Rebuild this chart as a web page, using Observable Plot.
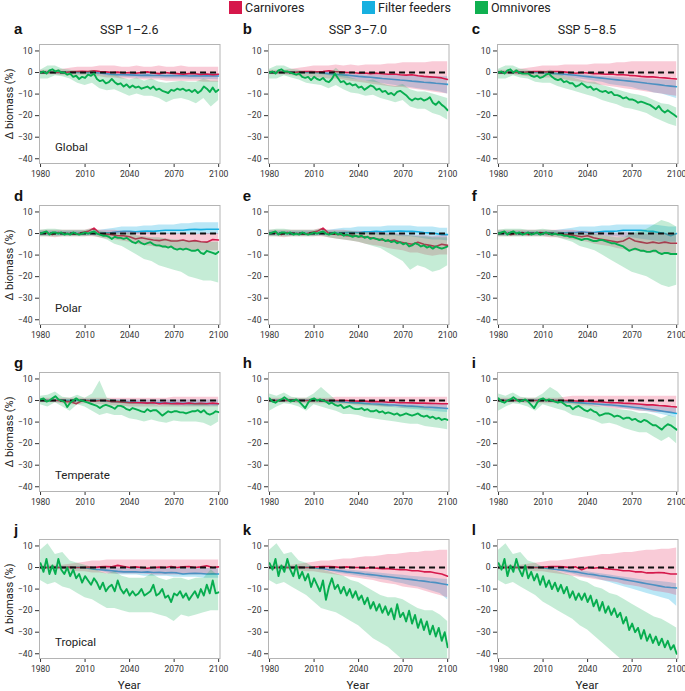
<!DOCTYPE html>
<html><head><meta charset="utf-8">
<script src="https://cdn.jsdelivr.net/npm/d3@7"></script>
<script src="https://cdn.jsdelivr.net/npm/@observablehq/plot@0.6"></script>
<style>
body{margin:0;background:#fff;}
#fig{position:relative;width:685px;height:691px;font-family:Roboto,"Liberation Sans",sans-serif;color:#222;overflow:hidden;background:#fff;}
.abs{position:absolute;white-space:nowrap;line-height:1;}
</style></head><body><div id="fig"></div><script>
// ---------- labels ----------
const groups = ["Carnivores", "Filter feeders", "Omnivores"];
const scenarios = ["SSP 1–2.6", "SSP 3–7.0", "SSP 5–8.5"];
const regions = ["Global", "Polar", "Temperate", "Tropical"];
const panelKeys = ["a","b","c","d","e","f","g","h","i","j","k","l"];
const xTicks = [1980, 2010, 2040, 2070, 2100];
const yTicks = [10, 0, -10, -20, -30, -40];
const yearSpan = [1980, 2100];
const zeroRef = [{value: 0, from: 1980, to: 2100}];

// ---------- data (omnivores: every 2 yr; carnivores & filter feeders: every 4 yr; bands: every 5 yr) ----------
// a: Global, SSP1-2.6
const omni_a = [0,0.5,-0.5,1,1.5,0.5,1,0,0,-1,-0.5,-2,-1.5,-3,-2,-2.5,-1,-1.5,-0.5,-3,-4,-3.5,-5,-4.5,-3,-4.5,-5.5,-5,-6.5,-5.5,-7,-6,-7,-6.5,-7.5,-7,-6.5,-7.5,-6.5,-8,-7.5,-8.5,-9,-9.5,-8,-8.5,-7.5,-8,-7.5,-8.5,-8,-9,-8,-9.5,-8.5,-6.5,-7.5,-9,-7,-9,-8];
const omniHi_a = [1,3,3,1.5,1,0.5,0,1,-1,-1.5,-1,-2.5,-3.5,-2.5,-4,-3,-4.5,-5,-4.5,-4,-4.5,-4.5,-3,-4,-4];
const omniLo_a = [-3,-3,-1.5,-2,-3,-5,-6,-5,-7.5,-8.5,-8,-9.5,-11,-10,-11,-11,-12,-14,-12.5,-12,-13,-14.5,-12,-16,-13];
const carn_a = [0,0,0,0,0,0.3,0.5,0.6,0.5,0.8,0.5,0.3,0,0.2,-0.2,0,-0.3,0,0.3,-0.2,-0.5,0,-0.3,-0.5,-0.8,-0.5,-0.6,-0.9,-0.7,-1,-0.8];
const carnHi_a = [1,1,1,1.5,2,2.5,2.5,2.5,3,3,3,2.5,2.5,3,2.5,2.5,3,2.5,2.5,3,2.5,2.5,2.5,2.5,2.5];
const carnLo_a = [-1,-1,-1,-1.5,-1.5,-1.5,-1.5,-2,-2,-2.5,-2.5,-3,-3,-3,-3.5,-3.5,-3.5,-4,-4,-4,-4,-4,-4.5,-4.5,-4.5];
const filt_a = [0,0,0,0,0,0,0,0,0,0,-0.2,-0.5,-0.8,-1,-1,-1.1,-1.2,-1.3,-1.2,-1.4,-1.3,-1.5,-1.4,-1.5,-1.4,-1.6,-1.5,-1.6,-1.5,-1.6,-1.6];
const filtHi_a = [0.5,0.5,0.5,0.5,0.5,0.5,0.5,0.5,0.5,0.3,0,-0.2,-0.3,-0.3,-0.4,-0.4,-0.5,-0.5,-0.5,-0.5,-0.5,-0.5,-0.5,-0.5,-0.5];
const filtLo_a = [-0.5,-0.5,-0.5,-0.5,-0.5,-0.6,-0.8,-1,-1.2,-1.6,-2,-2.2,-2.4,-2.5,-2.6,-2.7,-2.8,-2.9,-3,-3,-3.1,-3.1,-3.2,-3.2,-3.3];
// b: Global, SSP3-7.0
const omni_b = [0,0.5,-0.5,1,1.5,0.5,0.5,0,-0.5,-1,-0.5,-2,-2.5,-2,-3.5,-2,-3,-3.5,-2.5,-4,-4.5,-3,-0.5,-2.5,-4.5,-4,-5.5,-5,-6,-5.5,-7,-6.5,-8,-7,-6,-6.5,-8,-7.5,-9,-8.5,-10,-9.5,-10.5,-9,-8.5,-9.5,-10.5,-12,-13,-12,-12.5,-12,-13,-12.5,-11.5,-14,-15,-13.5,-15,-16,-17.5];
const omniHi_b = [1.5,3,3,1.5,1,0,0.5,0,-1,2,-1,-2.5,-3.5,-4,-3.5,-5,-6,-6.5,-5.5,-8,-9,-9,-10,-11,-12];
const omniLo_b = [-3,-3,-1.5,-2.5,-3.5,-5,-5.5,-6,-7.5,-6,-8,-9.5,-10,-11,-10.5,-12,-13,-14,-13,-16,-17,-17,-19,-20,-22];
const carn_b = [0,0,0,0,0,0.3,0.5,0.5,0.3,0.5,0.8,0.5,0.3,0,0,-0.3,-0.2,-0.5,-0.3,-0.6,-0.8,-0.7,-1,-1.2,-1,-1.5,-1.8,-2,-2.2,-2.5,-3.2];
const carnHi_b = [1,1,1,1.5,2,2.5,3,3,3,3.5,3,3.5,3,3.5,3.5,3.5,4,4,4.5,4.5,4.5,4.5,5,5,5];
const carnLo_b = [-1,-1,-1,-1.5,-2,-2,-2.5,-2.5,-3,-3,-3.5,-4,-4.5,-5,-5.5,-6,-6.5,-7,-7,-7.5,-8,-8.5,-9,-9.5,-10];
const filt_b = [0,0,0,0,0,0,0,0,0,-0.2,-0.5,-0.8,-1,-1.2,-1.5,-1.8,-2,-2.2,-2.5,-2.8,-3,-3.2,-3.5,-3.7,-4,-4.2,-4.5,-4.7,-5,-5.2,-5.5];
const filtHi_b = [0.5,0.5,0.5,0.5,0.5,0.5,0.5,0.5,0,-0.3,-0.5,-0.7,-0.9,-1,-1.1,-1.2,-1.3,-1.4,-1.5,-1.6,-1.7,-1.8,-1.9,-2,-2];
const filtLo_b = [-0.5,-0.5,-0.5,-0.5,-0.5,-0.6,-0.8,-1,-1.5,-2,-2.5,-3,-3.5,-4,-4.5,-5,-5.5,-6,-6.5,-7,-7.5,-8,-8.5,-9,-10];
// c: Global, SSP5-8.5
const omni_c = [0,0.5,-0.5,1,1.5,0,1,0,-0.5,-0.5,-0.5,-1.5,-2,-1.5,-2.5,-2,-1,-0.5,-2,-3,-3.5,-3,-4.5,-4,-5,-5,-6.5,-6,-5,-6,-7,-6.5,-8,-7.5,-8.5,-9,-8.5,-9.5,-9,-10.5,-10.5,-11,-12,-11.5,-12.5,-12.5,-13,-14,-13.5,-14,-14.5,-15,-16,-17,-15.5,-17.5,-18.5,-17.5,-18.5,-19.5,-20.5];
const omniHi_c = [1.5,3,3,1.5,1,0,0.5,1,-0.5,-2,-2.5,-3.5,-4.5,-4.5,-6,-7,-8,-9,-10,-10.5,-11.5,-13,-14.5,-15,-16.5];
const omniLo_c = [-3,-3,-1.5,-2.5,-3,-4.5,-5,-5,-6.5,-7.5,-8.5,-9.5,-10.5,-11.5,-13,-14,-15,-16.5,-17,-18,-19,-21,-22.5,-24,-25];
const carn_c = [0,0,0,0,0,0.3,0.5,0.5,0.3,0.5,0.5,0.3,0,-0.3,0,-0.2,-0.5,-0.5,-0.8,-0.7,-1,-1,-1.3,-1.5,-1.8,-2,-2,-2.3,-2.5,-2.8,-3];
const carnHi_c = [1,1,1,1.5,2,2.5,3,3,3,3.5,3.5,3.5,3.5,4,4,4,4.5,4.5,5,5,5,5,5,5,5];
const carnLo_c = [-1,-1,-1,-1.5,-2,-2,-2.5,-2.5,-3,-3.5,-4,-4.5,-5,-5.5,-6,-6.5,-7,-7.5,-8,-8.5,-9,-9.5,-10,-10.5,-11];
const filt_c = [0,0,0,0,0,0,0,0,-0.2,-0.4,-0.6,-0.8,-1,-1.3,-1.6,-1.9,-2.2,-2.5,-2.8,-3.1,-3.4,-3.7,-4,-4.3,-4.6,-5,-5.3,-5.6,-6,-6.3,-6.6];
const filtHi_c = [0.5,0.5,0.5,0.5,0.5,0.5,0.5,0.5,0,-0.3,-0.6,-0.9,-1.2,-1.5,-1.8,-2,-2.2,-2.4,-2.6,-2.8,-3,-3.2,-3.4,-3.6,-3.8];
const filtLo_c = [-0.5,-0.5,-0.5,-0.5,-0.5,-0.6,-0.8,-1,-1.5,-2,-2.5,-3,-3.5,-4,-4.5,-5.5,-6,-6.5,-7,-8,-8.5,-9.5,-10,-11,-12];
// d: Polar, SSP1-2.6
const omni_d = [0,0.5,1,-0.5,0.5,0.5,0,0.5,-0.5,0,-0.5,0.5,0,-0.5,0,0.5,0,0.5,1,0,-0.5,-1,-1,-1.5,-2.5,-1.5,-2,-2,-2.5,-2,-3,-4,-4.5,-3.5,-4.5,-5,-4.5,-4,-5,-5.5,-5.5,-6,-6,-6.5,-6,-7,-7.5,-7,-7.5,-7,-7.5,-8,-8,-7.5,-9,-9.5,-8,-8.5,-9,-9.5,-8.5];
const omniHi_d = [1.5,2,2,1.5,1.5,1.5,1.5,2,1,0.5,0,0,0,-1,-1.5,-2,-2,-2.5,-3,-3,-3.5,-3.5,-4,-4,-4];
const omniLo_d = [-1.5,-1.5,-1.5,-1.5,-1.5,-1.5,-1.5,-1,-2,-3,-5,-6,-8,-10,-12,-13,-15,-16,-17,-18,-20,-21,-22,-22,-23];
const carn_d = [0,0.3,-0.5,0.5,0,0,-0.3,0.5,1,2.5,0,-0.3,-0.5,-1,-1,-1.5,-2.5,-2,-2.5,-3,-3.3,-2.8,-3.5,-3.5,-3,-3.7,-3.3,-3.8,-4,-2.8,-3];
const carnHi_d = [1.5,1.5,1.5,1.5,1.5,1.5,1.5,2.5,1.5,1.5,1.5,1,1,0.5,0.5,0.5,0,0,-0.5,0,-0.5,-0.5,0,0,0];
const carnLo_d = [-1.5,-1.5,-2,-1.5,-1.5,-1.5,-1.5,-1.5,-2,-2.5,-3,-3.5,-4,-5,-5.5,-6,-6.5,-7,-7,-7.5,-7.5,-8,-8,-8,-8];
const filt_d = [0,0,0,0,0,0,0,0,0,0,0,0.3,0.5,0.8,1,1,0.8,1,1.2,1,1.3,1.5,1.5,1.5,1.5,1.8,2,1.8,2,2,2];
const filtHi_d = [1,1,1,1,1,1,1,1,1.5,2,2.5,3,3,3,3.5,3.5,4,4,4,4.5,4.5,5,5,5,5];
const filtLo_d = [-1,-1,-1,-1,-1,-1,-1,-1,-1,-1,-0.5,-0.5,-0.5,-0.5,-0.5,-0.5,-0.5,-0.5,-0.5,-0.5,-0.5,-0.5,-0.5,-0.5,-0.5];
// e: Polar, SSP3-7.0
const omni_e = [0,0.5,1,-0.5,0.5,0.5,0,0.5,-0.5,0,-0.5,0.5,0,-0.5,0,0.5,0,0.5,1,0,-0.5,0,0.5,-0.5,0,-1,-0.5,-1,-1.5,-1,-1.5,-1,-2,-1.5,-2.5,-2,-2.5,-3,-2.5,-3.5,-3,-4,-3.5,-4.5,-4,-5,-4.5,-6,-5.5,-4.5,-5,-6,-5.5,-6.5,-6,-7,-6,-6.5,-7,-6.5,-6];
const omniHi_e = [1.5,2,2,1.5,1.5,1.5,1.5,2,1,1,1,1,0.5,0.5,0,0,-0.5,-0.5,-1,-1,-1.5,-1.5,-2,-2,-2];
const omniLo_e = [-1.5,-1.5,-1.5,-1.5,-1.5,-1.5,-1.5,-1,-2,-2.5,-3,-3.5,-4,-5,-6,-7,-9,-11,-13,-17,-15,-16,-18,-17,-15];
const carn_e = [0,0.3,-0.5,0.5,0,0,-0.3,0.5,1,2.5,0,-0.3,-0.5,-1,-1,-1.5,-1.5,-2,-2.5,-3,-3.5,-3,-4,-4.5,-5,-4,-5,-5.5,-6,-5,-5.5];
const carnHi_e = [1.5,1.5,1.5,1.5,1.5,1.5,1.5,2.5,1.5,1.5,1.5,1,1,0.5,0.5,0.5,0,0,-0.5,-1,-1,-1,-1.5,-1,-1];
const carnLo_e = [-1.5,-1.5,-2,-1.5,-1.5,-1.5,-1.5,-1.5,-2,-2.5,-3,-3.5,-4,-5,-5.5,-6,-7,-7.5,-8,-9,-9,-10,-10.5,-10,-10];
const filt_e = [0,0,0,0,0,0,0,0,0,0,0,0.2,0.3,0.5,0.5,0.5,0.8,0.8,1,0.8,1,1,1.2,1,1,0.8,0.5,0.3,0,-0.5,-0.5];
const filtHi_e = [1,1,1,1,1,1,1,1,1.5,2,2.5,2.5,3,3,3,3,3.5,3.5,3.5,3.5,3,3,3,2.5,2.5];
const filtLo_e = [-1,-1,-1,-1,-1,-1,-1,-1,-1,-1,-0.5,-0.5,-0.5,-0.5,-0.5,-1,-1,-1,-1.5,-1.5,-2,-2.5,-3,-3,-3.5];
// f: Polar, SSP5-8.5
const omni_f = [0,0.5,1,-0.5,0.5,1,0,0.5,-0.5,0,0.5,-0.5,0,0.5,-0.5,0,0.5,0,-0.5,0,-0.5,-0.5,-1,-1,-1.5,-1.5,-2,-2.5,-3,-2.5,-2.5,-3,-3.5,-3.5,-3,-3,-3.5,-4,-4.5,-4.5,-5,-5.5,-6,-7,-8,-7.5,-7,-7.5,-8,-8,-8.5,-8.5,-8,-8,-9,-9.5,-9,-9,-9.5,-9.5,-9.5];
const omniHi_f = [1.5,2,2,2,1.5,1.5,2,1.5,1,0.5,0,0,-0.5,-0.5,-1,-1.5,-2,-2,0,1,2,4,6,5,3];
const omniLo_f = [-1.5,-1.5,-1.5,-1.5,-1.5,-1.5,-1.5,-1.5,-2,-3,-4,-6,-7,-8,-10,-12,-14,-16,-18,-19,-20,-22,-24,-25,-24];
const carn_f = [0,0.5,-0.5,0,0.5,-0.5,0,0.5,0,-0.5,0,-0.5,-0.5,-1,-1.5,-1,-2,-2.5,-3,-3.5,-4,-3.5,-2,-3.5,-4,-4.5,-4,-4.5,-4,-4.5,-4.5];
const carnHi_f = [1.5,1.5,1.5,1.5,1.5,1.5,1.5,1.5,1.5,1.5,1.5,1,1,0.5,0.5,0,0,0.5,0,0,-0.5,0,0,0,0];
const carnLo_f = [-1.5,-1.5,-1.5,-1.5,-1.5,-1.5,-1.5,-2,-2,-2.5,-3,-3.5,-4,-5,-5.5,-6,-7,-7.5,-8,-8.5,-9,-9,-9.5,-10,-10];
const filt_f = [0,0,0,0,0,0,0,0,0,0,0,0.3,0.5,0.5,0.8,0.5,0.5,0.8,1,1,1.2,1.5,1.5,1.5,1.5,1.2,1,0.5,0,-1,0];
const filtHi_f = [1,1,1,1,1,1,1,1,1.5,2,2.5,3,3,3,3.5,3.5,4,4,4,4,4,4,3.5,3,3];
const filtLo_f = [-1,-1,-1,-1,-1,-1,-1,-1,-1,-1,-1,-1,-1,-1,-1,-1.5,-1.5,-2,-2,-2.5,-3,-3.5,-4,-4,-4];
// g: Temperate, SSP1-2.6
const omni_g = [0.5,1,-0.5,0,1,2,0.5,0,-0.5,-3,-1,0,1,0,0,-0.5,-1,-1.5,-2,-2.5,-3.5,-2.5,-2,-2.5,-3,-3.8,-2.5,-2.5,-3,-4,-4.5,-3.5,-4,-4.5,-5,-5.4,-4,-5,-4.5,-4.5,-5.7,-7,-6,-5,-5.5,-5,-5,-5.5,-5.5,-6,-5.5,-5,-5,-4.5,-5.5,-4.5,-6,-6.5,-6,-5,-5.4];
const omniHi_g = [2,2.5,4,1.5,1,2.5,1,3,9,1,0,0,-1,-1.5,-2,-1.5,-2.5,-2,-2,-2.5,-2,-1.5,-1.5,-2.5,-2];
const omniLo_g = [-2,-3,-1,-3,-5,-2,-3,-5,-7,-6,-7,-7,-8.5,-9,-10,-9,-10,-10.5,-9.5,-10,-10,-10,-10.5,-12,-10];
const carn_g = [0,0,0,0,-0.5,-0.5,-1.5,0,0,-0.3,0,0,-0.5,-0.5,-0.8,-1,-1,-1,-1.2,-1,-1.5,-1.2,-1.5,-1.3,-1.5,-1.2,-1.5,-1.3,-1.5,-1.2,-1.5];
const carnHi_g = [1,1,1,1,1,1,1,1,1,1,1,1,1,1,1,1,1,1,1.5,1.5,1.5,1.5,1.5,1.5,1.5];
const carnLo_g = [-1,-1,-1,-1.5,-2,-2,-1.5,-1.5,-2,-2,-2.5,-2.5,-3,-3,-3,-3,-3,-3,-3,-3,-3,-3,-3,-3,-3];
const filt_g = [0,0,0,0,0,0,0,0,0,0,0,-0.2,-0.4,-0.5,-0.6,-0.8,-0.8,-1,-1,-1,-1.1,-1.2,-1.2,-1.3,-1.3,-1.3,-1.4,-1.4,-1.4,-1.5,-1.5];
const filtHi_g = [0.5,0.5,0.5,0.5,0.5,0.5,0.5,0.5,0.5,0.5,0.5,0.5,0.3,0.3,0.3,0.2,0.2,0.2,0.2,0.2,0.2,0.2,0.2,0.2,0.2];
const filtLo_g = [-0.5,-0.5,-0.5,-0.5,-0.5,-0.5,-0.5,-0.5,-0.8,-1,-1.2,-1.5,-1.7,-1.9,-2,-2.1,-2.2,-2.3,-2.4,-2.5,-2.5,-2.6,-2.6,-2.7,-2.7];
// h: Temperate, SSP3-7.0
const omni_h = [1,-0.5,-1,0,0.5,1.5,0.5,-0.5,0,0.5,-0.5,-2,-3.5,-1,0.5,1,0,0.5,0,-0.5,-1.5,-1,-2,-2.5,-2,-3.5,-3,-2.5,-3.5,-4,-4,-3.5,-4.5,-4,-5,-5,-4.5,-5.5,-5,-6,-5.5,-6,-6.5,-6,-7,-6.5,-6,-6.5,-7,-6.5,-6,-7,-7.5,-7,-8,-7.5,-8.5,-8,-9,-8.5,-9];
const omniHi_h = [3,2,3.5,1.5,1,1,3,6,3,0,-1,-1,-1,-1.5,-2,-2,-2.5,-3,-3,-3,-3,-3.5,-4,-4,-4.5];
const omniLo_h = [-5,-3,-1.5,-2,-3,-5,-2,-3,-4,-5,-6.5,-6.5,-7,-8,-8.5,-9,-9.5,-10,-10.5,-11,-11,-12,-12.5,-13,-13.5];
const carn_h = [0,0,0,0,0,0,0,0,0,0,0,0,0,0,-0.2,-0.3,-0.3,-0.5,-0.5,-0.6,-0.8,-0.8,-1,-1,-1.1,-1.2,-1.2,-1.3,-1.4,-1.5,-1.5];
const carnHi_h = [1,1,1,1,1,1,1,1,1,1.5,1.5,1.5,1.5,1.5,1.5,1.5,1.5,1.5,1.5,1.5,1.5,1.5,1.5,1.5,1.5];
const carnLo_h = [-1,-1,-1,-1,-1.5,-1.5,-1.5,-1.5,-1.5,-2,-2,-2,-2.5,-2.5,-2.5,-3,-3,-3,-3.5,-3.5,-3.5,-4,-4,-4,-4.5];
const filt_h = [0,0,0,0,0,0,0,0,0,-0.2,-0.3,-0.4,-0.6,-0.8,-1,-1.1,-1.3,-1.5,-1.6,-1.8,-2,-2.1,-2.3,-2.5,-2.6,-2.8,-3,-3.1,-3.3,-3.5,-3.7];
const filtHi_h = [0.5,0.5,0.5,0.5,0.5,0.5,0.5,0.5,0.5,0,-0.2,-0.3,-0.4,-0.5,-0.6,-0.8,-0.9,-1,-1.1,-1.2,-1.3,-1.4,-1.5,-1.6,-1.7];
const filtLo_h = [-0.5,-0.5,-0.5,-0.5,-0.5,-0.5,-0.5,-0.5,-0.8,-1,-1.3,-1.6,-1.9,-2.2,-2.5,-2.8,-3.1,-3.4,-3.7,-4,-4.3,-4.6,-5,-5.3,-5.6];
// i: Temperate, SSP5-8.5
const omni_i = [1,-0.5,-1,0,0.5,1.5,0.5,-0.5,0,0.5,-0.5,-2,-3.5,-1,0.5,1,0,0.5,0,-0.5,-1,-0.5,-1.5,-2.5,-2.5,-4,-3,-2.5,-3.5,-4.5,-5,-4,-5,-5.5,-7,-6.5,-6,-6,-6.5,-7.5,-7,-7.5,-8.5,-8,-8,-9,-8.5,-9.5,-10,-9,-9.5,-10.5,-11.5,-11.5,-12.5,-13.5,-12,-11,-11.5,-12.5,-13.5];
const omniHi_i = [3,2,3.5,1.5,1,1,3,6,4,0,-1,-1,-2,-2.5,-3,-3.5,-4,-4.5,-5,-6,-6,-7,-8.5,-7,-8];
const omniLo_i = [-5,-3,-1.5,-2,-3,-5,-2,-3,-4,-5,-7,-7.5,-8.5,-9.5,-11,-10.5,-11.5,-13,-14,-15,-15,-17,-19,-17,-20];
const carn_i = [0,0,0,0,0,0,0,0,0,0,0,0,0,-0.2,-0.3,-0.3,-0.5,-0.5,-0.8,-1,-1,-1.2,-1.3,-1.5,-1.7,-2,-2,-2.3,-2.5,-2.8,-3];
const carnHi_i = [1,1,1,1,1,1,1,1,1,1.5,2,2,2,2,2,2,2,2,2,2,2,2,2,2,2];
const carnLo_i = [-1,-1,-1,-1,-1.5,-1.5,-1.5,-1.5,-1.5,-2,-2,-2.5,-2.5,-3,-3,-3.5,-4,-4,-4.5,-5,-5,-5.5,-5.5,-6,-6];
const filt_i = [0,0,0,0,0,0,0,0,0,-0.2,-0.3,-0.5,-0.7,-0.9,-1.1,-1.3,-1.5,-1.7,-1.9,-2.1,-2.3,-2.6,-2.9,-3.2,-3.5,-3.9,-4.3,-4.7,-5.1,-5.5,-6];
const filtHi_i = [0.5,0.5,0.5,0.5,0.5,0.5,0.5,0.5,0.5,0,-0.3,-0.5,-0.7,-0.9,-1,-1.2,-1.4,-1.6,-1.8,-2,-2.3,-2.6,-3,-3.3,-3.6];
const filtLo_i = [-0.5,-0.5,-0.5,-0.5,-0.5,-0.5,-0.5,-0.5,-1,-1.2,-1.5,-1.8,-2,-2.3,-2.6,-3,-3.4,-3.8,-4.2,-4.7,-5.2,-5.8,-6.5,-7.3,-8];
// j: Tropical, SSP1-2.6
const omni_j = [2,-2,4,-3,1,-3,4,-1,-3,0,-4,-1,-5,-3,-7,-4,-6,-8,-5,-7,-10,-7,-11,-9,-8,-11,-6,-10,-12,-10,-13,-11,-13,-12,-10,-13,-12,-11,-8,-13,-12,-10,-14,-13,-16,-12,-13,-11,-14,-12,-15,-13,-11,-14,-10,-13,-8,-12,-6,-12,-11.5];
const omniHi_j = [8,11,6,7,3,2,1,0,-2,-3,-2,-4,-5,-5,-5,-3,-5,-6,-5,-5,-6,-5,-5,-1,-4];
const omniLo_j = [-6,-8,-7,-9,-10,-12,-14,-15,-17,-19,-19,-20,-21,-21,-21,-21,-22,-23,-25,-22,-23,-22,-21,-20,-20];
const carn_j = [0,0,0,0,0,0.2,0,0,0.2,0,0.3,0.5,0.3,1,0.5,0,0.3,0,-0.3,0,0.2,0,0.5,0,0.3,0.5,0,0.3,0.8,0,0.3];
const carnHi_j = [1,1,1,1,1.5,2,2.5,3,3,3.5,3.5,3.5,3.5,3.5,3.5,3.5,3.5,3.5,3.5,3.5,3.5,3.5,3.5,3.5,3.5];
const carnLo_j = [-1,-1,-1,-1,-1.5,-2,-2,-2.5,-2.5,-3,-3,-3,-3,-3,-3,-3.5,-3.5,-3.5,-3.5,-3.5,-3.5,-3.5,-3.5,-3.5,-3.5];
const filt_j = [0,0,0,0,0,0,0,0,-0.3,-0.8,-1,-1.2,-1.5,-1.8,-2,-2,-2,-2.2,-2,-2.3,-2.2,-2.5,-2.3,-2.5,-3,-2.8,-2.7,-2.8,-3,-2.9,-3];
const filtHi_j = [0.5,0.5,0.5,0.5,0.5,0.5,0.5,0.5,0.3,0,0,-0.5,-0.5,-0.5,-0.5,-0.5,-0.5,-0.5,-0.5,-0.5,-0.5,-0.5,-0.5,-0.5,-0.5];
const filtLo_j = [-0.5,-0.5,-0.5,-0.5,-0.5,-0.5,-0.5,-0.5,-1.5,-2.5,-3,-3.5,-3.5,-3.5,-4,-4,-4,-4,-4.5,-4.5,-4.5,-4.5,-5,-5,-5];
// k: Tropical, SSP3-7.0
const omni_k = [2,-1,4,-4,1,-2,4,-1,-4,1,-5,-2,-6,-3,-9,-5,-8,-11,-6,-15,-9,-5,-10,-8,-12,-9,-13,-10,-14,-11,-15,-13,-17,-14,-19,-16,-20,-17,-21,-18,-22,-19,-24,-17,-23,-21,-25,-20,-26,-22,-28,-24,-29,-25,-31,-27,-32,-28,-34,-30,-37];
const omniHi_k = [8,11,6,7,3,2,0,-1,-2,-3,-4,-6,-7,-9,-11,-13,-14,-14,-15,-17,-19,-20,-20,-22,-25];
const omniLo_k = [-6,-8,-7,-9,-11,-13,-16,-19,-20,-21,-23,-25,-27,-30,-33,-35,-37,-40,-43,-45,-45,-45,-45,-45,-45];
const carn_k = [0,0,0,0,0,0.2,0,0,0.3,0.5,0.5,0.3,0,0.3,0,0,-0.3,0,-0.3,-0.5,-0.5,-0.8,-1,-1,-1.5,-1.5,-2,-2,-2.5,-3,-4];
const carnHi_k = [1,1,1,1,1.5,2,2.5,3,3,3.5,4,4,4.5,5,5,5.5,6,6,6.5,7,7,7.5,7.5,8,8];
const carnLo_k = [-1,-1,-1,-1,-1.5,-2,-2,-2.5,-3,-3.5,-4,-4.5,-5,-5.5,-6,-7,-7.5,-8,-9,-9.5,-10,-11,-12,-13,-14];
const filt_k = [0,0,0,0,0,0,0,0,-0.3,-0.6,-1,-1.3,-1.6,-2,-2.3,-2.6,-3,-3.3,-3.6,-4,-4.3,-4.6,-5,-5.3,-5.6,-6,-6.3,-6.7,-7,-7.5,-8];
const filtHi_k = [0.5,0.5,0.5,0.5,0.5,0.5,0.5,0.5,0,-0.5,-1,-1.3,-1.6,-2,-2.3,-2.6,-3,-3.3,-3.6,-4,-4.3,-4.6,-5,-5.3,-5.6];
const filtLo_k = [-0.5,-0.5,-0.5,-0.5,-0.5,-0.5,-0.5,-0.5,-1.5,-2.5,-3,-3.5,-4,-4.5,-5,-5.5,-6,-7,-7.5,-8.5,-9,-10,-11,-12,-15];
// l: Tropical, SSP5-8.5
const omni_l = [2,-1,4,-4,1,-2,4,-1,-4,1,-5,-2,-6,-3,-8,-4,-9,-6,-10,-7,-11,-8,-12,-9,-14,-11,-15,-12,-15,-12,-16,-13,-18,-15,-20,-16,-21,-18,-22,-19,-23,-21,-26,-23,-29,-26,-30,-28,-33,-29,-34,-31,-35,-32,-36,-33,-37,-34,-38,-36,-40];
const omniHi_l = [8,11,6,7,3,2,0,-1,-2,-3,-4,-6,-7,-9,-10,-12,-13,-15,-17,-19,-21,-23,-24,-26,-28];
const omniLo_l = [-6,-8,-7,-9,-11,-13,-16,-18,-20,-22,-24,-27,-29,-32,-35,-38,-41,-44,-45,-45,-45,-45,-45,-45,-45];
const carn_l = [0,0,0,0,0,0.2,0,0,0.3,0.5,0.5,0.3,0,0.3,-1,0,-0.3,0,-0.5,-0.8,-1,-1.5,-1.5,-2,-2,-2.5,-2.5,-2.3,-2.5,-3,-3];
const carnHi_l = [1,1,1,1,1.5,2,2.5,3,3,3.5,4,4.5,5,5.5,6,6,6.5,7,7,7.5,8,8,8.5,8.5,9];
const carnLo_l = [-1,-1,-1,-1,-1.5,-2,-2,-2.5,-3,-3.5,-4,-4.5,-5,-5.5,-6,-6.5,-7,-8,-8.5,-9,-10,-11,-11.5,-12,-13];
const filt_l = [0,0,0,0,0,0,0,0,-0.3,-0.7,-1,-1.3,-1.7,-2,-2.5,-3,-3.3,-3.8,-4.2,-4.6,-5,-5.5,-6,-6.5,-7,-7.5,-8,-8.5,-9,-9.3,-9.5];
const filtHi_l = [0.5,0.5,0.5,0.5,0.5,0.5,0.5,0.5,0,-0.5,-1,-1.5,-2,-2.5,-3,-3.5,-4,-4.5,-5,-5.5,-6,-6.3,-6.6,-7,-7.5];
const filtLo_l = [-0.5,-0.5,-0.5,-0.5,-0.5,-0.5,-0.5,-0.5,-1.5,-2.5,-3,-4,-4.5,-5,-6,-7,-8,-9,-10,-11,-12,-13,-14,-15,-18];

// ---------- assemble ----------
const SRC = {
  a:[omni_a,omniLo_a,omniHi_a,carn_a,carnLo_a,carnHi_a,filt_a,filtLo_a,filtHi_a],
  b:[omni_b,omniLo_b,omniHi_b,carn_b,carnLo_b,carnHi_b,filt_b,filtLo_b,filtHi_b],
  c:[omni_c,omniLo_c,omniHi_c,carn_c,carnLo_c,carnHi_c,filt_c,filtLo_c,filtHi_c],
  d:[omni_d,omniLo_d,omniHi_d,carn_d,carnLo_d,carnHi_d,filt_d,filtLo_d,filtHi_d],
  e:[omni_e,omniLo_e,omniHi_e,carn_e,carnLo_e,carnHi_e,filt_e,filtLo_e,filtHi_e],
  f:[omni_f,omniLo_f,omniHi_f,carn_f,carnLo_f,carnHi_f,filt_f,filtLo_f,filtHi_f],
  g:[omni_g,omniLo_g,omniHi_g,carn_g,carnLo_g,carnHi_g,filt_g,filtLo_g,filtHi_g],
  h:[omni_h,omniLo_h,omniHi_h,carn_h,carnLo_h,carnHi_h,filt_h,filtLo_h,filtHi_h],
  i:[omni_i,omniLo_i,omniHi_i,carn_i,carnLo_i,carnHi_i,filt_i,filtLo_i,filtHi_i],
  j:[omni_j,omniLo_j,omniHi_j,carn_j,carnLo_j,carnHi_j,filt_j,filtLo_j,filtHi_j],
  k:[omni_k,omniLo_k,omniHi_k,carn_k,carnLo_k,carnHi_k,filt_k,filtLo_k,filtHi_k],
  l:[omni_l,omniLo_l,omniHi_l,carn_l,carnLo_l,carnHi_l,filt_l,filtLo_l,filtHi_l]
};
const yearOf = (i, n) => yearSpan[0] + i * (yearSpan[1] - yearSpan[0]) / (n - 1);
const series = arr => arr.map((v, i) => ({year: yearOf(i, arr.length), v}));
const band = (lo, hi) => lo.map((v, i) => ({year: yearOf(i, lo.length), lo: v, hi: hi[i]}));

// ---------- style ----------
const lineColor = {carn: "#d5194c", filt: "#19b0e2", omni: "#07ad4f"};
const bandColor = {carn: "#e8315f", filt: "#1ab0e0", omni: "#19b35a"};
const legendColor = ["#d6174b", "#17b0e0", "#0fb050"];
const colLeft = [39, 267.7, 496.7];
const rowTop = [44, 205, 371.7, 538.5];
const frameW = 180.5, frameH = 119;
const ML = 40, MR = 4, MT = 2, MB = 22;

const fig = document.getElementById("fig");
function addText(txt, x, y, css, anchor) {
  const d = document.createElement("div");
  d.className = "abs";
  d.textContent = txt;
  d.style.left = x + "px"; d.style.top = y + "px";
  Object.assign(d.style, css || {});
  d.style.transform = anchor === "middle" ? "translate(-50%,-50%)" : "translate(0,-50%)";
  fig.appendChild(d);
  return d;
}

// legend
const legendX = [229, 362, 475];
groups.forEach((g, i) => {
  const s = document.createElement("div");
  s.className = "abs";
  Object.assign(s.style, {left: legendX[i] + "px", top: "1px", width: "12.5px", height: "12.5px", background: legendColor[i]});
  fig.appendChild(s);
  addText(g, legendX[i] + 16, 7.5, {fontSize: "12.5px", color: "#222"});
});

panelKeys.forEach((key, idx) => {
  const col = idx % 3, row = Math.floor(idx / 3);
  const [omni, omniLo, omniHi, carn, carnLo, carnHi, filt, filtLo, filtHi] = SRC[key];
  const chart = Plot.plot({
    width: ML + frameW + MR, height: MT + frameH + MB,
    marginLeft: ML, marginRight: MR, marginTop: MT, marginBottom: MB,
    style: {fontSize: "8.6px", fontFamily: "Roboto, 'Liberation Sans', sans-serif", color: "#333", background: "transparent", overflow: "visible"},
    x: {domain: [1979.3, 2100.9], ticks: xTicks, tickFormat: d => String(d), tickSize: 4, tickPadding: 3, label: null},
    y: {domain: [-42.2, 13], ticks: yTicks, tickSize: 4, tickPadding: 3, label: null},
    marks: [
      Plot.areaY(band(filtLo, filtHi), {x: "year", y1: "lo", y2: "hi", fill: bandColor.filt, fillOpacity: 0.3, clip: true}),
      Plot.lineY(series(filt), {x: "year", y: "v", stroke: lineColor.filt, strokeWidth: 1.6, clip: true}),
      Plot.areaY(band(carnLo, carnHi), {x: "year", y1: "lo", y2: "hi", fill: bandColor.carn, fillOpacity: 0.25, clip: true}),
      Plot.lineY(series(carn), {x: "year", y: "v", stroke: lineColor.carn, strokeWidth: 1.6, clip: true}),
      Plot.areaY(band(omniLo, omniHi), {x: "year", y1: "lo", y2: "hi", fill: bandColor.omni, fillOpacity: 0.25, clip: true}),
      Plot.ruleY(zeroRef, {y: "value", x1: "from", x2: "to", stroke: "#111", strokeWidth: 2, strokeDasharray: "6,4"}),
      Plot.lineY(series(omni), {x: "year", y: "v", stroke: lineColor.omni, strokeWidth: 1.9, clip: true}),
      Plot.frame({stroke: "#b4b4b4", strokeWidth: 1})
    ]
  });
  chart.style.position = "absolute";
  chart.style.left = (colLeft[col] - ML) + "px";
  chart.style.top = (rowTop[row] - MT) + "px";
  fig.appendChild(chart);

  // panel letter
  const letterY = row === 0 ? 28 : rowTop[row] - 10;
  addText(key, colLeft[col] - 25, letterY, {fontSize: "15px", fontWeight: "bold", fontFamily: "'Liberation Sans', Arial, sans-serif", color: "#111"});
  // column titles
  if (row === 0) addText(scenarios[col], colLeft[col] + frameW / 2, 30, {fontSize: "12.5px", color: "#222"}, "middle");
  // region label
  if (col === 0) {
    addText(regions[row], colLeft[col] + 16, rowTop[row] + 104, {fontSize: "11.5px", color: "#222"});
    const yl = addText("Δ biomass (%)", 9, rowTop[row] + 60, {fontSize: "11px", color: "#222"}, "middle");
    yl.style.transform = "translate(-50%,-50%) rotate(-90deg)";
  }
  if (row === 3) addText("Year", colLeft[col] + frameW / 2, 686, {fontSize: "11.5px", color: "#222"}, "middle");
});
</script></body></html>
